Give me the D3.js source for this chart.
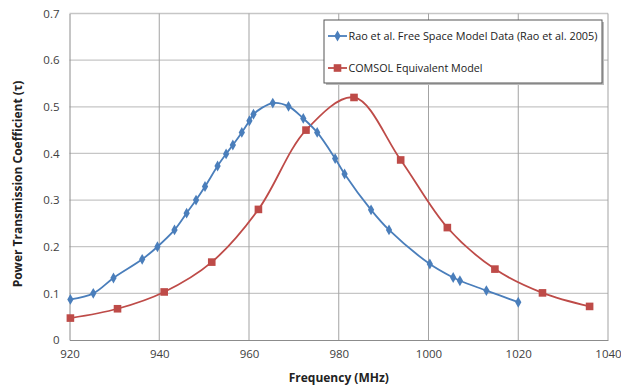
<!DOCTYPE html>
<html><head><meta charset="utf-8">
<script src="https://cdn.jsdelivr.net/npm/d3@7"></script>
<style>
html,body{margin:0;padding:0;background:#fff;}
svg{display:block;font-family:"Open Sans","DejaVu Sans",sans-serif;}
</style></head>
<body><svg id="c" width="621" height="389"></svg>
<script>
const raoFreq = [920.2, 925.3, 929.8, 936.2, 939.6, 943.4, 946.1, 948.2, 950.2, 953.0, 954.9, 956.4, 958.4, 960.1, 961.0, 965.3, 968.8, 972.1, 975.2, 979.2, 981.3, 987.2, 991.2, 1000.3, 1005.5, 1007.0, 1012.9, 1020.0];
const raoVal  = [0.087, 0.100, 0.133, 0.173, 0.200, 0.236, 0.272, 0.300, 0.329, 0.373, 0.399, 0.418, 0.445, 0.470, 0.484, 0.508, 0.501, 0.475, 0.445, 0.389, 0.356, 0.279, 0.236, 0.163, 0.134, 0.127, 0.106, 0.081];
const comsolFreq = [920.2, 930.7, 941.1, 951.7, 962.1, 972.7, 983.4, 993.8, 1004.2, 1014.8, 1025.4, 1035.9];
const comsolVal  = [0.047, 0.067, 0.103, 0.167, 0.280, 0.450, 0.520, 0.386, 0.241, 0.152, 0.101, 0.072];
const xTicks = [920, 940, 960, 980, 1000, 1020, 1040];
const yTicks = [0, 0.1, 0.2, 0.3, 0.4, 0.5, 0.6, 0.7];
const seriesNames = ["Rao et al. Free Space Model Data (Rao et al. 2005)", "COMSOL Equivalent Model"];

const svg = d3.select("#c");
const L = 69.5, R = 608, T = 13.5, B = 340;
const x = d3.scaleLinear().domain([920, 1040]).range([L, R]);
const y = d3.scaleLinear().domain([0, 0.7]).range([B, T]);

// gridlines
svg.append("g").selectAll("line").data(yTicks.slice(1)).join("line")
  .attr("x1", L).attr("x2", R).attr("y1", d => y(d)).attr("y2", d => y(d))
  .attr("stroke", "#c6c6c6").attr("stroke-width", 1.3);
svg.append("g").selectAll("line").data(xTicks.slice(1)).join("line")
  .attr("y1", T).attr("y2", B).attr("x1", d => x(d)).attr("x2", d => x(d))
  .attr("stroke", "#a3a3a3").attr("stroke-width", 1);

// axes
const xAxis = svg.append("g").attr("transform", `translate(0,${B})`)
  .call(d3.axisBottom(x).tickValues(xTicks).tickSize(0).tickPadding(10).tickFormat(d3.format("d")));
const yAxis = svg.append("g").attr("transform", `translate(${L},0)`)
  .call(d3.axisLeft(y).tickValues(yTicks).tickSize(0).tickPadding(14).tickFormat(d => d === 0 ? "0" : d3.format(".1f")(d)));
[xAxis, yAxis].forEach(g => {
  g.select(".domain").attr("stroke", "#8c8c8c").attr("stroke-width", 1);
  g.selectAll("text").attr("fill", "#404040").attr("font-size", 11.5).attr("font-family", "Open Sans, sans-serif");
});
yAxis.selectAll("text").attr("dx", 4);

// axis titles
svg.append("text").attr("x", (L + R) / 2).attr("y", 382).attr("text-anchor", "middle")
  .attr("font-size", 12).attr("font-weight", "bold").attr("fill", "#222").text("Frequency (MHz)");
svg.append("text").attr("transform", "translate(22,184) rotate(-90)").attr("text-anchor", "middle")
  .attr("font-size", 12).attr("font-weight", "bold").attr("fill", "#222").text("Power Transmission Coefficient (\u03c4)");

const line = d3.line().x(d => x(d[0])).y(d => y(d[1])).curve(d3.curveCatmullRom.alpha(0.5));
const rao = raoFreq.map((f, i) => [f, raoVal[i]]);
const com = comsolFreq.map((f, i) => [f, comsolVal[i]]);
const blue = "#4a7ebb", red = "#be4b48";

svg.append("path").datum(com).attr("d", line).attr("fill", "none").attr("stroke", red).attr("stroke-width", 1.8);
svg.append("path").datum(rao).attr("d", line).attr("fill", "none").attr("stroke", blue).attr("stroke-width", 1.8);

const diamond = d3.symbol().type(d3.symbolDiamond).size(34);
svg.append("g").selectAll("path").data(rao).join("path")
  .attr("d", diamond).attr("transform", d => `translate(${x(d[0])},${y(d[1])})`).attr("fill", blue);
svg.append("g").selectAll("rect").data(com).join("rect")
  .attr("x", d => x(d[0]) - 3.8).attr("y", d => y(d[1]) - 3.8).attr("width", 7.6).attr("height", 7.6).attr("fill", red);

// legend
const lg = svg.append("g");
lg.append("rect").attr("x", 326).attr("y", 22).attr("width", 278).attr("height", 63).attr("fill", "#bbb");
lg.append("rect").attr("x", 324).attr("y", 20).attr("width", 278).attr("height", 63).attr("fill", "#fff").attr("stroke", "#555").attr("stroke-width", 1);
const ly = [36, 68];
[blue, red].forEach((c, i) => {
  lg.append("line").attr("x1", 328).attr("x2", 347).attr("y1", ly[i]).attr("y2", ly[i]).attr("stroke", c).attr("stroke-width", 1.8);
  if (i === 0) lg.append("path").attr("d", diamond).attr("transform", `translate(337.5,${ly[i]})`).attr("fill", c);
  else lg.append("rect").attr("x", 333.7).attr("y", ly[i] - 3.8).attr("width", 7.6).attr("height", 7.6).attr("fill", c);
  lg.append("text").attr("x", 348.5).attr("y", ly[i]).attr("dy", "0.35em").attr("font-size", 11.5).attr("fill", "#222")
    .attr("textLength", i === 0 ? 249 : 134).attr("lengthAdjust", "spacingAndGlyphs").text(seriesNames[i]);
});
</script></body></html>
